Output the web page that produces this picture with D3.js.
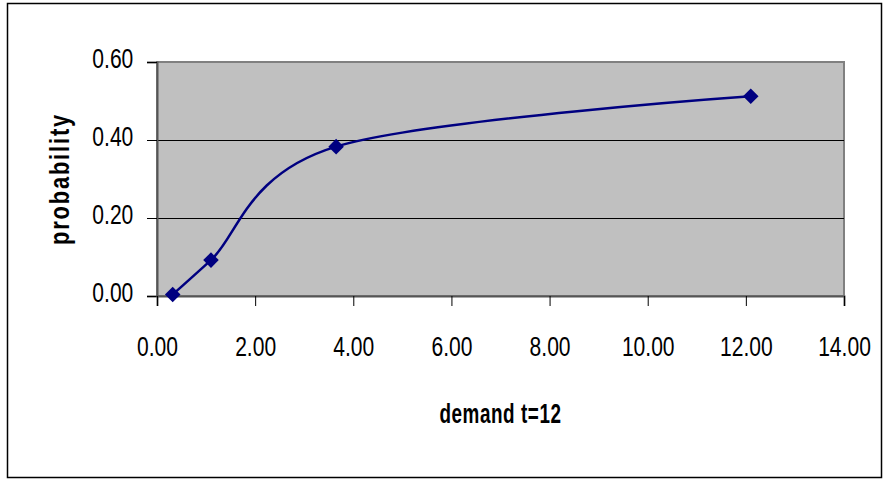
<!DOCTYPE html>
<html>
<head>
<meta charset="utf-8">
<script src="https://cdn.jsdelivr.net/npm/d3@7"></script>
<style>
  html, body { margin: 0; padding: 0; background: #fff; }
  svg { display: block; }
  .tick-label { font-family: "Liberation Sans", Arial, sans-serif; font-size: 27px; fill: #000; }
  .axis-title { font-family: "Liberation Sans", Arial, sans-serif; font-weight: bold; fill: #000; }
</style>
</head>
<body>
<script>
// ---- data ----
const demand = [0.32, 1.10, 3.65, 12.10];
const probability = [0.004, 0.092, 0.383, 0.512];
const xTicks = [0, 2, 4, 6, 8, 10, 12, 14];
const yTicks = [0, 0.2, 0.4, 0.6];
const xTitle = "demand t=12";
const yTitle = "probability";

const W = 885, H = 481;
const plot = { left: 157, top: 62, right: 844, bottom: 296 };
const narrow = 0.78;

const svg = d3.select("body").append("svg").attr("width", W).attr("height", H);

// outer chart border
svg.append("rect")
  .attr("x", 7.5).attr("y", 3.5).attr("width", 874).attr("height", 474)
  .attr("fill", "#fff").attr("stroke", "#000").attr("stroke-width", 1.5);

const x = d3.scaleLinear().domain([0, 14]).range([plot.left, plot.right]);
const y = d3.scaleLinear().domain([0, 0.6]).range([plot.bottom, plot.top]);

// plot area
svg.append("rect")
  .attr("x", plot.left).attr("y", plot.top)
  .attr("width", plot.right - plot.left).attr("height", plot.bottom - plot.top)
  .attr("fill", "#C0C0C0").attr("stroke", "#808080").attr("stroke-width", 2);

// gridlines
svg.append("g").selectAll("line")
  .data(yTicks.filter(d => d > 0 && d < 0.6))
  .join("line")
  .attr("x1", plot.left).attr("x2", plot.right)
  .attr("y1", d => Math.round(y(d)) + 0.5).attr("y2", d => Math.round(y(d)) + 0.5)
  .attr("stroke", "#000").attr("stroke-width", 1);

// y axis
const yAxis = svg.append("g")
  .attr("transform", `translate(${plot.left},0)`)
  .call(d3.axisLeft(y).tickValues(yTicks).tickSize(10).tickFormat(d3.format(".2f")));
yAxis.attr("font-size", null).attr("font-family", null);
yAxis.select(".domain").attr("stroke", "#555").attr("stroke-width", 2);
yAxis.selectAll(".tick line").attr("stroke", "#000");
yAxis.selectAll(".tick text")
  .attr("class", "tick-label")
  .attr("x", -23.7 / narrow).attr("y", 5.5).attr("dy", 0)
  .attr("transform", `scale(${narrow},1)`);

// x axis
const xAxis = svg.append("g")
  .attr("transform", `translate(0,${plot.bottom})`)
  .call(d3.axisBottom(x).tickValues(xTicks).tickSize(10).tickFormat(d3.format(".2f")));
xAxis.attr("font-size", null).attr("font-family", null);
xAxis.select(".domain").attr("stroke", "#555").attr("stroke-width", 2);
xAxis.selectAll(".tick line").attr("stroke", "#000");
xAxis.selectAll(".tick text")
  .attr("class", "tick-label")
  .attr("y", 60).attr("dy", 0)
  .attr("transform", `scale(${narrow},1)`);

// series line
const pts = demand.map((d, i) => [d, probability[i]]);
const line = d3.line().x(d => x(d[0])).y(d => y(d[1])).curve(d3.curveCardinal.tension(0));
svg.append("path")
  .datum(pts)
  .attr("d", line)
  .attr("fill", "none").attr("stroke", "#000080").attr("stroke-width", 2.5);

// markers
svg.append("g").selectAll("path")
  .data(pts)
  .join("path")
  .attr("d", d3.symbol(d3.symbolSquare, 121)())
  .attr("transform", d => `translate(${x(d[0])},${y(d[1])}) rotate(45)`)
  .attr("fill", "#000080");

// axis titles
svg.append("text")
  .attr("class", "axis-title")
  .attr("font-size", 27)
  .attr("transform", `translate(${(plot.left + plot.right) / 2},422.5) scale(0.7,1)`)
  .attr("text-anchor", "middle")
  .attr("letter-spacing", "0.8px")
  .text(xTitle);

svg.append("text")
  .attr("class", "axis-title")
  .attr("font-size", 28)
  .attr("transform", `translate(69,${(plot.top + plot.bottom) / 2}) rotate(-90) scale(0.78,1)`)
  .attr("text-anchor", "middle")
  .attr("letter-spacing", "2.4px")
  .text(yTitle);
</script>
</body>
</html>
